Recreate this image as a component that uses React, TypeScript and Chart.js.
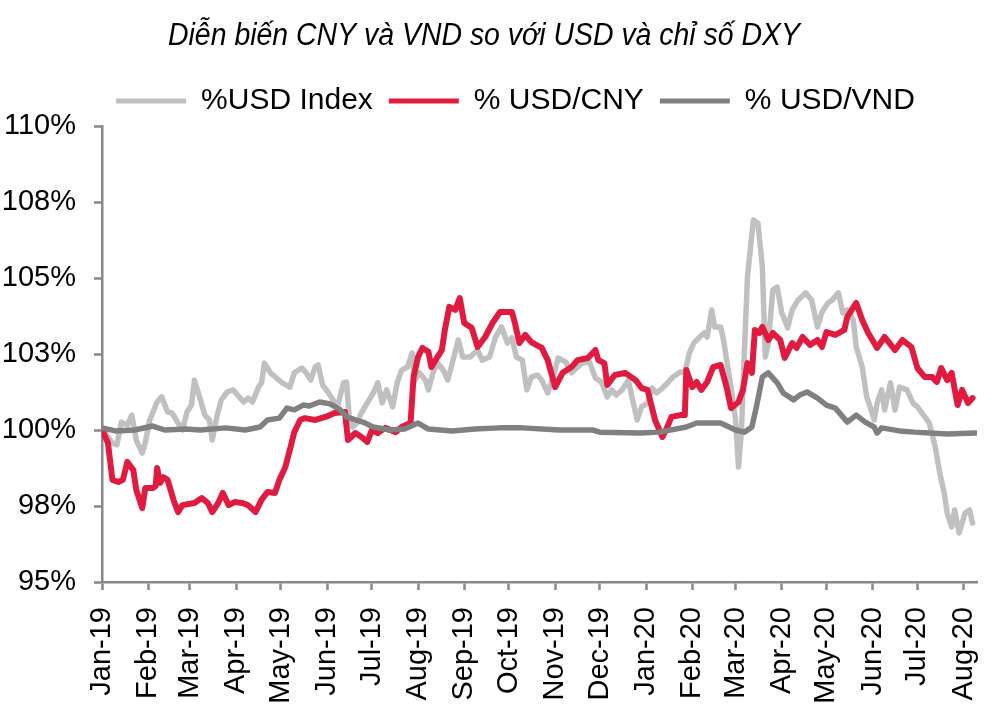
import React, { useEffect, useRef } from "react";
import { Chart, registerables } from "chart.js";

Chart.register(...registerables);

const TITLE = "Diễn biến CNY và VND so với USD và chỉ số DXY";
const SERIES_NAMES = ["%USD Index", "% USD/CNY", "% USD/VND"];
const SERIES_COLORS = ["#C0C0C0", "#E11B3F", "#808080"];

// x axis: days since 1 Jan 2019
const MONTH_LABELS = [
  "Jan-19", "Feb-19", "Mar-19", "Apr-19", "May-19", "Jun-19", "Jul-19", "Aug-19", "Sep-19", "Oct-19",
  "Nov-19", "Dec-19", "Jan-20", "Feb-20", "Mar-20", "Apr-20", "May-20", "Jun-20", "Jul-20", "Aug-20",
];
const MONTH_DAYS = [0, 31, 59, 90, 120, 151, 181, 212, 243, 273, 304, 334, 365, 396, 425, 456, 486, 517, 547, 578];
const X_MAX = 587;
const Y_MIN = 95;
const Y_MAX = 110;
const Y_STEP = 2.5;

const usdDays = [0, 4, 7, 10, 13, 17, 20, 23, 27, 29, 32, 37, 40, 44, 47, 51, 54, 57, 60, 62, 66, 69, 72, 74, 77, 80, 84, 88, 91, 95, 98, 101, 105, 107, 109, 113, 117, 121, 126, 129, 134, 137, 140, 143, 145, 148, 152, 155, 158, 162, 164, 166, 168, 171, 174, 178, 182, 185, 188, 191, 195, 198, 201, 205, 208, 210, 213, 217, 219, 222, 225, 229, 232, 235, 239, 242, 247, 252, 255, 260, 264, 268, 272, 275, 278, 282, 285, 288, 292, 295, 299, 302, 306, 311, 315, 319, 322, 327, 331, 335, 339, 342, 345, 349, 353, 356, 359, 362, 366, 369, 372, 376, 380, 383, 388, 391, 394, 397, 401, 404, 406, 409, 411, 415, 417, 419, 422, 425, 427, 429, 431, 433, 437, 440, 443, 445, 447, 450, 453, 456, 458, 460, 463, 467, 472, 476, 480, 483, 487, 490, 494, 497, 500, 504, 506, 510, 513, 516, 518, 520, 523, 525, 529, 532, 535, 540, 544, 547, 552, 555, 559, 562, 565, 567, 570, 572, 575, 579, 582, 584];
const usdValues = [100.07, 99.77, 99.57, 99.51, 100.26, 100.16, 100.49, 99.67, 99.24, 99.57, 100.33, 100.92, 101.09, 100.59, 100.56, 100.23, 100.0, 100.59, 100.82, 101.64, 100.99, 100.49, 100.33, 99.67, 100.43, 100.99, 101.25, 101.32, 101.15, 100.92, 101.05, 100.92, 101.41, 101.55, 102.2, 101.88, 101.71, 101.55, 101.41, 101.88, 102.04, 101.88, 101.64, 102.07, 102.14, 101.48, 101.22, 100.99, 100.76, 101.55, 101.58, 100.33, 100.1, 100.23, 100.56, 100.89, 101.22, 101.55, 100.89, 101.32, 100.76, 101.55, 101.97, 102.07, 102.53, 101.64, 101.88, 101.64, 101.32, 101.88, 102.2, 101.97, 101.64, 102.2, 102.96, 102.4, 102.4, 102.63, 102.3, 102.4, 103.06, 103.39, 102.86, 103.03, 102.4, 102.3, 101.32, 101.74, 101.81, 101.64, 101.22, 101.64, 102.37, 102.24, 101.88, 102.07, 102.2, 102.24, 101.71, 101.58, 101.09, 101.32, 101.15, 101.32, 101.64, 100.99, 100.33, 100.76, 100.89, 101.38, 101.22, 101.38, 101.58, 101.74, 101.91, 101.88, 102.53, 102.86, 103.06, 103.19, 103.06, 103.95, 103.39, 103.39, 102.96, 102.3, 101.41, 100.33, 98.78, 100.0, 102.63, 105.03, 106.91, 106.81, 105.36, 102.4, 102.86, 104.61, 104.7, 103.85, 103.62, 103.36, 103.95, 104.28, 104.51, 104.28, 103.39, 103.88, 104.18, 104.28, 104.51, 103.85, 103.95, 103.62, 102.73, 102.07, 101.09, 100.66, 100.33, 100.89, 101.32, 100.66, 101.55, 100.66, 101.41, 101.32, 100.89, 100.76, 100.43, 100.23, 99.44, 98.59, 97.93, 97.27, 96.81, 97.37, 96.61, 97.27, 97.37, 96.94];

const cnyDays = [0, 1, 4, 7, 11, 14, 17, 21, 23, 27, 29, 34, 36, 37, 39, 41, 44, 48, 51, 54, 62, 67, 71, 74, 78, 81, 85, 89, 94, 98, 103, 107, 111, 116, 119, 123, 126, 129, 133, 136, 143, 150, 156, 163, 165, 170, 174, 178, 181, 185, 190, 197, 201, 207, 209, 212, 215, 219, 221, 225, 228, 230, 233, 237, 240, 243, 248, 252, 257, 262, 267, 275, 277, 280, 284, 288, 295, 299, 304, 309, 315, 319, 326, 331, 333, 337, 339, 344, 351, 358, 362, 366, 371, 376, 379, 382, 388, 391, 392, 396, 399, 402, 406, 410, 415, 419, 422, 427, 430, 433, 436, 438, 441, 443, 447, 450, 455, 458, 463, 466, 470, 475, 480, 483, 486, 492, 498, 500, 506, 510, 514, 520, 525, 532, 537, 543, 547, 552, 557, 560, 563, 567, 570, 574, 577, 581, 584];
const cnyValues = [100.0, 99.9, 99.57, 98.36, 98.29, 98.36, 98.95, 98.68, 98.03, 97.43, 98.09, 98.09, 98.16, 98.75, 98.26, 98.45, 98.36, 97.7, 97.3, 97.53, 97.6, 97.76, 97.6, 97.3, 97.6, 97.93, 97.53, 97.63, 97.6, 97.53, 97.3, 97.7, 97.96, 97.93, 98.36, 98.78, 99.34, 99.93, 100.33, 100.39, 100.33, 100.43, 100.56, 100.59, 99.67, 99.9, 99.77, 99.61, 100.0, 99.9, 100.07, 99.93, 100.1, 100.23, 101.74, 102.4, 102.7, 102.57, 102.07, 102.4, 102.63, 103.29, 104.05, 103.95, 104.34, 103.52, 103.36, 102.73, 103.06, 103.52, 103.88, 103.88, 103.52, 102.86, 103.13, 102.89, 102.7, 102.3, 101.41, 101.88, 102.07, 102.3, 102.37, 102.63, 102.3, 102.2, 101.48, 101.81, 101.88, 101.64, 101.38, 101.32, 100.33, 99.77, 100.07, 100.43, 100.49, 100.49, 101.97, 101.41, 101.58, 101.32, 101.58, 102.07, 102.14, 101.41, 100.72, 100.92, 101.32, 102.2, 101.88, 103.29, 103.19, 103.39, 102.96, 103.19, 102.96, 102.37, 102.86, 102.7, 103.06, 102.8, 102.96, 102.73, 103.22, 103.13, 103.29, 103.72, 104.18, 103.62, 103.19, 102.7, 103.06, 102.63, 102.96, 102.73, 102.04, 101.74, 101.74, 101.58, 102.04, 101.64, 101.88, 100.82, 101.32, 100.89, 101.05];

const vndDays = [0, 9, 22, 34, 42, 56, 66, 83, 96, 106, 111, 119, 124, 129, 135, 139, 146, 153, 160, 164, 170, 175, 182, 193, 203, 212, 219, 235, 250, 267, 282, 307, 329, 334, 361, 374, 392, 399, 415, 425, 431, 436, 439, 443, 447, 453, 457, 464, 468, 473, 480, 486, 492, 500, 506, 512, 518, 520, 523, 535, 545, 567, 586];
const vndValues = [100.07, 99.97, 100.0, 100.13, 100.0, 100.03, 100.0, 100.07, 100.0, 100.1, 100.33, 100.39, 100.72, 100.66, 100.82, 100.79, 100.92, 100.86, 100.66, 100.43, 100.33, 100.26, 100.1, 100.0, 100.03, 100.23, 100.03, 99.97, 100.03, 100.07, 100.07, 100.0, 100.0, 99.93, 99.9, 99.93, 100.1, 100.23, 100.23, 100.0, 99.93, 100.1, 100.76, 101.74, 101.88, 101.55, 101.22, 100.99, 101.15, 101.25, 101.05, 100.82, 100.72, 100.26, 100.49, 100.26, 100.1, 99.9, 100.07, 99.97, 99.93, 99.87, 99.9];

const AXIS_COLOR = "#888888";
const FONT = "'Liberation Sans', Arial, sans-serif";

const toPoints = (days: number[], values: number[]) => days.map((d, i) => ({ x: d, y: values[i] }));

const titlePlugin = {
  id: "customTitle",
  afterDraw(chart: any) {
    const ctx = chart.ctx;
    ctx.save();
    ctx.font = "italic 31px 'Liberation Sans', Arial, sans-serif";
    ctx.fillStyle = "#000";
    ctx.textAlign = "center";
    ctx.textBaseline = "alphabetic";
    const w = ctx.measureText(TITLE).width;
    const sx = 632 / w;
    ctx.translate(484, 45);
    ctx.scale(sx, 1);
    ctx.fillText(TITLE, 0, 0);
    ctx.restore();
  },
};

const legendShiftPlugin = {
  id: "legendShift",
  afterLayout(chart: any) {
    const lg = chart.legend;
    if (lg) {
      lg.left += 27;
      lg.right += 27;
    }
  },
};

export default function App() {
  const ref = useRef<HTMLCanvasElement | null>(null);

  useEffect(() => {
    if (!ref.current) return;
    const series = [
      toPoints(usdDays, usdValues),
      toPoints(cnyDays, cnyValues),
      toPoints(vndDays, vndValues),
    ];
    const chart = new Chart(ref.current, {
      type: "line",
      data: {
        datasets: series.map((pts, i) => ({
          label: SERIES_NAMES[i],
          data: pts,
          borderColor: SERIES_COLORS[i],
          backgroundColor: SERIES_COLORS[i],
          borderWidth: i === 1 ? 6 : 5.5,
          pointRadius: 0,
          tension: 0,
          borderJoinStyle: "round",
          borderCapStyle: "round",
          fill: false,
          order: 3 - i,
        })),
      },
      options: {
        animation: false,
        responsive: false,
        parsing: false as any,
        layout: { padding: { top: 70, left: 0, right: 15, bottom: 0 } },
        plugins: {
          tooltip: { enabled: false },
          title: { display: false },
          legend: {
            display: true,
            position: "top",
            labels: {
              boxWidth: 70,
              boxHeight: 5,
              padding: 16,
              color: "#000",
              font: { family: FONT, size: 30 },
              sort: (a: any, b: any) => a.datasetIndex - b.datasetIndex,
              generateLabels: (chart: any) =>
                (Chart.defaults.plugins.legend.labels.generateLabels as any)(chart).map((l: any) => ({
                  ...l,
                  lineWidth: 0,
                })),
            },
          },
        },
        scales: {
          x: {
            type: "linear",
            min: 0,
            max: X_MAX,
            afterBuildTicks: (scale: any) => {
              scale.ticks = MONTH_DAYS.map((d) => ({ value: d }));
            },
            afterFit: (scale: any) => {
              scale.height = 128;
              scale.paddingLeft = 0;
              scale.paddingRight = 0;
            },
            ticks: {
              autoSkip: false,
              maxRotation: 90,
              minRotation: 90,
              padding: 17,
              color: "#000",
              font: { family: FONT, size: 29 },
              callback: (value: any) => {
                const idx = MONTH_DAYS.indexOf(Number(value));
                return idx >= 0 ? MONTH_LABELS[idx] : "";
              },
            },
            grid: {
              display: true,
              drawOnChartArea: false,
              drawTicks: true,
              tickLength: 8,
              tickColor: AXIS_COLOR,
              tickWidth: 2.5,
            },
            border: { display: true, color: AXIS_COLOR, width: 2.5 },
          },
          y: {
            type: "linear",
            min: Y_MIN,
            max: Y_MAX,
            afterFit: (scale: any) => {
              scale.width = 102;
              scale.paddingTop = 0;
              scale.paddingBottom = 0;
            },
            ticks: {
              stepSize: Y_STEP,
              padding: 18,
              color: "#000",
              font: { family: FONT, size: 29 },
              callback: (value: any) => Math.round(Number(value)) + "%",
            },
            grid: {
              display: true,
              drawOnChartArea: false,
              drawTicks: true,
              tickLength: 8,
              tickColor: AXIS_COLOR,
              tickWidth: 2.5,
            },
            border: { display: true, color: AXIS_COLOR, width: 2.5 },
          },
        },
      },
      plugins: [titlePlugin, legendShiftPlugin],
    } as any);
    return () => chart.destroy();
  }, []);

  return (
    <div style={{ position: "absolute", left: 0, top: 0, width: 992, height: 710, background: "#fff" }}>
      <canvas ref={ref} width={992} height={710} style={{ display: "block" }} />
    </div>
  );
}
